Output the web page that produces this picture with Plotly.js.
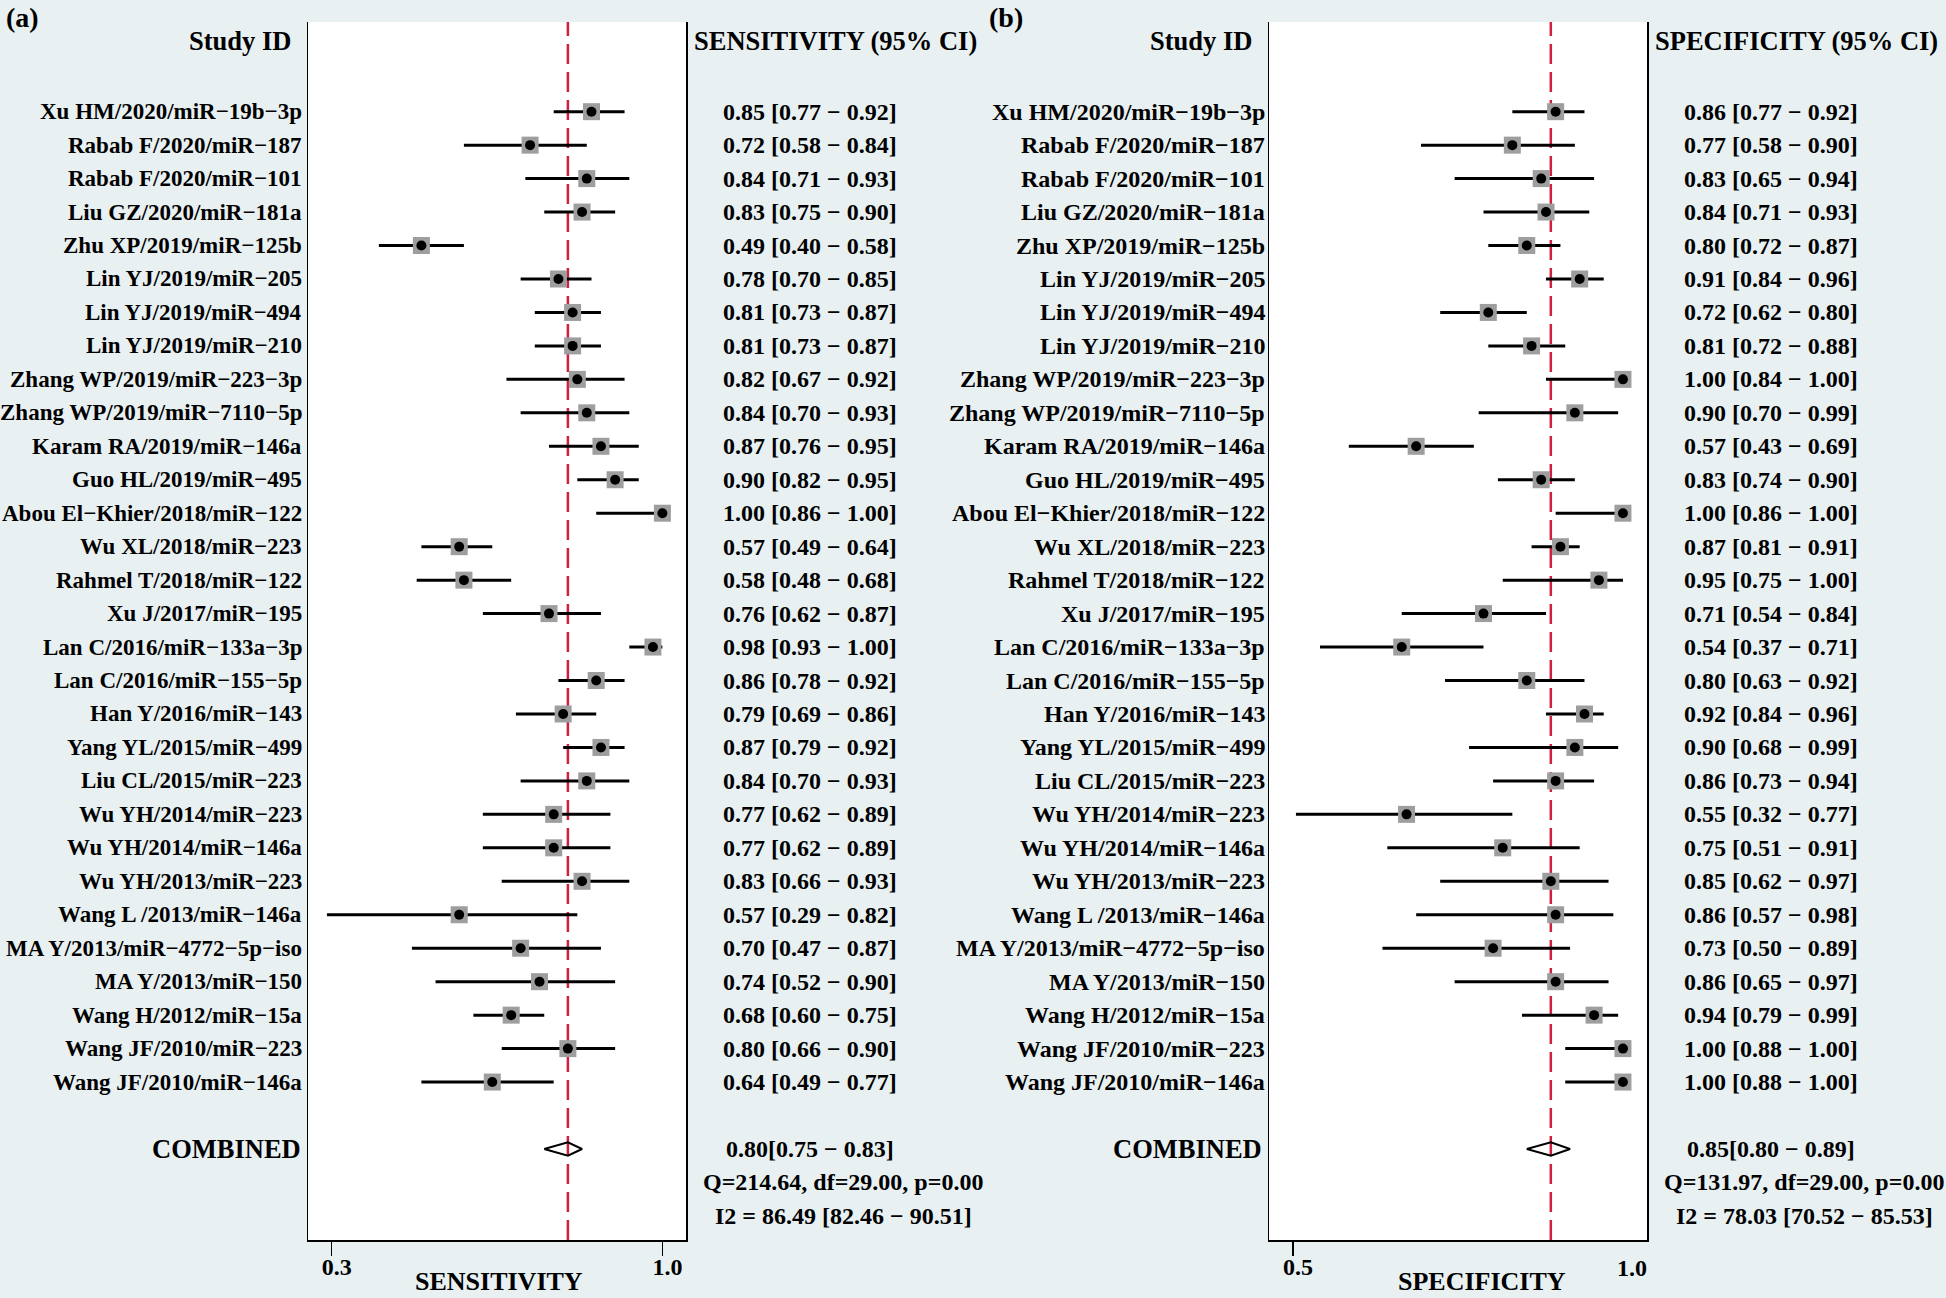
<!DOCTYPE html>
<html>
<head>
<meta charset="utf-8">
<script src="https://cdn.plot.ly/plotly-3.0.1.min.js"></script>
<style>
html, body { margin: 0; padding: 0; background: #e8f0f2; }
#chart { width: 1946px; height: 1298px; }
</style>
</head>
<body>
<div id="chart"></div>
<script>
// ---------------- DATA ----------------
const studies = [
  "Xu HM/2020/miR\u221219b\u22123p", "Rabab F/2020/miR\u2212187", "Rabab F/2020/miR\u2212101",
  "Liu GZ/2020/miR\u2212181a", "Zhu XP/2019/miR\u2212125b", "Lin YJ/2019/miR\u2212205",
  "Lin YJ/2019/miR\u2212494", "Lin YJ/2019/miR\u2212210", "Zhang WP/2019/miR\u2212223\u22123p",
  "Zhang WP/2019/miR\u22127110\u22125p", "Karam RA/2019/miR\u2212146a", "Guo HL/2019/miR\u2212495",
  "Abou El\u2212Khier/2018/miR\u2212122", "Wu XL/2018/miR\u2212223", "Rahmel T/2018/miR\u2212122",
  "Xu J/2017/miR\u2212195", "Lan C/2016/miR\u2212133a\u22123p", "Lan C/2016/miR\u2212155\u22125p",
  "Han Y/2016/miR\u2212143", "Yang YL/2015/miR\u2212499", "Liu CL/2015/miR\u2212223",
  "Wu YH/2014/miR\u2212223", "Wu YH/2014/miR\u2212146a", "Wu YH/2013/miR\u2212223",
  "Wang L /2013/miR\u2212146a", "MA Y/2013/miR\u22124772\u22125p\u2212iso", "MA Y/2013/miR\u2212150",
  "Wang H/2012/miR\u221215a", "Wang JF/2010/miR\u2212223", "Wang JF/2010/miR\u2212146a"
];
const sens   = [0.85,0.72,0.84,0.83,0.49,0.78,0.81,0.81,0.82,0.84,0.87,0.90,1.00,0.57,0.58,0.76,0.98,0.86,0.79,0.87,0.84,0.77,0.77,0.83,0.57,0.70,0.74,0.68,0.80,0.64];
const sensLo = [0.77,0.58,0.71,0.75,0.40,0.70,0.73,0.73,0.67,0.70,0.76,0.82,0.86,0.49,0.48,0.62,0.93,0.78,0.69,0.79,0.70,0.62,0.62,0.66,0.29,0.47,0.52,0.60,0.66,0.49];
const sensHi = [0.92,0.84,0.93,0.90,0.58,0.85,0.87,0.87,0.92,0.93,0.95,0.95,1.00,0.64,0.68,0.87,1.00,0.92,0.86,0.92,0.93,0.89,0.89,0.93,0.82,0.87,0.90,0.75,0.90,0.77];
const spec   = [0.86,0.77,0.83,0.84,0.80,0.91,0.72,0.81,1.00,0.90,0.57,0.83,1.00,0.87,0.95,0.71,0.54,0.80,0.92,0.90,0.86,0.55,0.75,0.85,0.86,0.73,0.86,0.94,1.00,1.00];
const specLo = [0.77,0.58,0.65,0.71,0.72,0.84,0.62,0.72,0.84,0.70,0.43,0.74,0.86,0.81,0.75,0.54,0.37,0.63,0.84,0.68,0.73,0.32,0.51,0.62,0.57,0.50,0.65,0.79,0.88,0.88];
const specHi = [0.92,0.90,0.94,0.93,0.87,0.96,0.80,0.88,1.00,0.99,0.69,0.90,1.00,0.91,1.00,0.84,0.71,0.92,0.96,0.99,0.94,0.77,0.91,0.97,0.98,0.89,0.97,0.99,1.00,1.00];
const sensPooled = [0.80, 0.75, 0.83];   // estimate, lower, upper
const specPooled = [0.85, 0.80, 0.89];
const sensHet = ["Q=214.64, df=29.00, p=0.00", "I2 = 86.49 [82.46 \u2212 90.51]"];
const specHet = ["Q=131.97, df=29.00, p=0.00", "I2 = 78.03 [70.52 \u2212 85.53]"];
const sensTickVals = [0.3, 1.0];
const sensTickText = ["0.3", "1.0"];
const specTickVals = [0.314, 1.018];
const specTickText = ["0.5", "1.0"];

// ---------------- LAYOUT CONSTANTS ----------------
const W = 1946, H = 1298;
const FONT = "Liberation Serif, Times New Roman, serif";
const BG = "#e8f0f2";
const px = v => v / W;
const py = v => 1 - v / H;
const boxTop = 22, boxBot = 1240;
const panels = [
  { left: 308, right: 686, range: [0.25, 1.05], est: sens, lo: sensLo, hi: sensHi, pooled: sensPooled,
    het: sensHet, header: "SENSITIVITY (95% CI)", title: "SENSITIVITY", titleX: 499,
    tickVals: sensTickVals, tickText: sensTickText, tag: "(a)", tagX: 4, labSize: 23, labGap: 4 },
  { left: 1269, right: 1647, range: [0.264, 1.05], est: spec, lo: specLo, hi: specHi, pooled: specPooled,
    het: specHet, header: "SPECIFICITY (95% CI)", title: "SPECIFICITY", titleX: 1482,
    tickVals: specTickVals, tickText: specTickText, tag: "(b)", tagX: 987, labSize: 24, labGap: 2 }
];
const rowTop = -2.68, rowBot = 33.72;
const ROW_HEADER = -2.1, ROW_POOLED = 31, ROW_Q = 32, ROW_I2 = 33;
const f2 = v => v.toFixed(2);

const traces = [];
const annotations = [];
const shapes = [];
const layout = {
  width: W, height: H, autosize: false,
  margin: { l: 0, r: 0, t: 0, b: 0, pad: 0 },
  paper_bgcolor: BG, plot_bgcolor: "white",
  font: { family: FONT, size: 24, color: "black", weight: "bold" },
  showlegend: false
};

panels.forEach((p, k) => {
  const xa = k === 0 ? "x" : "x2", ya = k === 0 ? "y" : "y2";
  const xKey = k === 0 ? "xaxis" : "xaxis2", yKey = k === 0 ? "yaxis" : "yaxis2";
  const rows = p.est.map((_, i) => i);

  layout[xKey] = {
    domain: [px(p.left), px(p.right)], range: p.range, anchor: ya,
    showgrid: false, zeroline: false, showline: true, linecolor: "black", linewidth: 1.5, mirror: false,
    tickmode: "array", tickvals: k === 0 ? p.tickVals : [p.tickVals[0]],
    ticktext: k === 0 ? p.tickText : [p.tickText[0]],
    ticks: "outside", ticklen: 14, tickwidth: 1.5, tickcolor: "black",
    ticklabelstandoff: -9, ticklabelshift: 5,
    tickfont: { family: FONT, size: 24, color: "black", weight: "bold" }
  };
  layout[yKey] = {
    domain: [py(boxBot), py(boxTop)], range: [rowBot, rowTop], anchor: xa,
    showgrid: false, zeroline: false, showticklabels: false, ticks: "",
    showline: true, linecolor: "black", linewidth: 1.5, mirror: true
  };

  // CI lines + grey squares
  traces.push({
    type: "scatter", mode: "markers", xaxis: xa, yaxis: ya,
    x: p.est, y: rows,
    marker: { symbol: "square", size: 17, color: "#9e9e9e", line: { width: 0 } },
    error_x: { type: "data", symmetric: false,
      array: p.est.map((v, i) => p.hi[i] - v), arrayminus: p.est.map((v, i) => v - p.lo[i]),
      color: "black", thickness: 3, width: 0 },
    hoverinfo: "skip"
  });
  // black point estimates
  traces.push({
    type: "scatter", mode: "markers", xaxis: xa, yaxis: ya,
    x: p.est, y: rows,
    marker: { symbol: "circle", size: 10, color: "black" },
    hoverinfo: "skip"
  });
  // pooled diamond
  const dh = 0.2;
  traces.push({
    type: "scatter", mode: "lines", xaxis: xa, yaxis: ya,
    x: [p.pooled[1], p.pooled[0], p.pooled[2], p.pooled[0], p.pooled[1]],
    y: [ROW_POOLED, ROW_POOLED - dh, ROW_POOLED, ROW_POOLED + dh, ROW_POOLED],
    line: { color: "black", width: 2 }, hoverinfo: "skip"
  });
  // pooled estimate reference line
  shapes.push({
    type: "line", xref: xa, yref: ya + " domain",
    x0: p.pooled[0], x1: p.pooled[0], y0: 0, y1: 1,
    line: { color: "#d11f3f", width: 2.5, dash: "20px,8px" }, layer: "below"
  });

  const txt = (text, x, y, xanchor, size, yref) => annotations.push({
    text: text, xref: "paper", yref: yref || ya, x: px(x), y: y,
    xanchor: xanchor, yanchor: "middle", showarrow: false,
    font: { family: FONT, size: size, color: "black", weight: "bold" }
  });

  // headers
  txt("Study ID", p.left - 15, ROW_HEADER, "right", 26.5);
  txt(p.header, p.right + 6, ROW_HEADER, "left", 26.5);
  // study rows
  studies.forEach((s, i) => {
    txt(s, p.left - p.labGap, i, "right", p.labSize);
    txt(f2(p.est[i]) + " [" + f2(p.lo[i]) + " \u2212 " + f2(p.hi[i]) + "]", p.right + 123.5, i, "center", 24);
  });
  // pooled
  txt("COMBINED", p.left - 5, ROW_POOLED, "right", 26.5);
  txt(f2(p.pooled[0]) + "[" + f2(p.pooled[1]) + " \u2212 " + f2(p.pooled[2]) + "]", p.right + 123.5, ROW_POOLED, "center", 24);
  txt(p.het[0], p.right + 157, ROW_Q, "center", 24);
  txt(p.het[1], p.right + 157, ROW_I2, "center", 24);

  // spec panel: "1.0" label without tick mark
  if (k === 1) {
    annotations.push({
      text: p.tickText[1], xref: xa, yref: "paper", x: p.tickVals[1], y: py(1267.5),
      xanchor: "center", yanchor: "middle", showarrow: false,
      font: { family: FONT, size: 24, color: "black", weight: "bold" }
    });
  }
  // axis title
  annotations.push({
    text: p.title, xref: "paper", yref: "paper", x: px(p.titleX), y: 0,
    xanchor: "center", yanchor: "bottom", yshift: 0, showarrow: false,
    font: { family: FONT, size: 26, color: "black", weight: "bold" }
  });
  // panel tag
  annotations.push({
    text: p.tag, xref: "paper", yref: "paper", x: px(p.tagX), y: py(17.5),
    xanchor: "left", yanchor: "middle", showarrow: false,
    font: { family: FONT, size: 28, color: "black", weight: "bold" }
  });
});

layout.annotations = annotations;
layout.shapes = shapes;

Plotly.newPlot("chart", traces, layout, { displayModeBar: false, staticPlot: true });
</script>
</body>
</html>
